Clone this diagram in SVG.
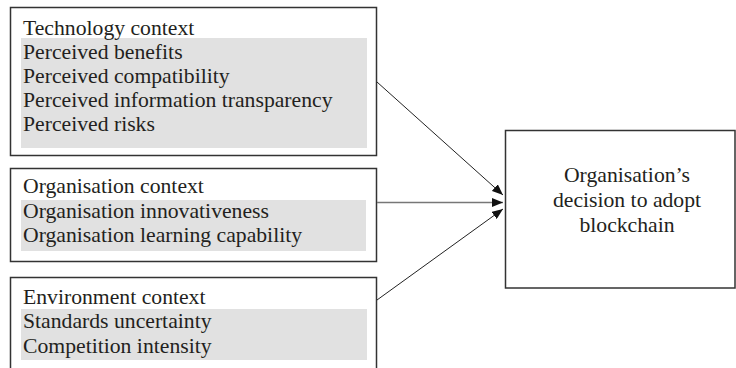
<svg xmlns="http://www.w3.org/2000/svg" width="736" height="368" viewBox="0 0 736 368">
<style>
.box{fill:#fff;stroke:#333;stroke-width:1.5}
.hl{fill:#e1e1e1}
text{font-family:"Liberation Serif","Times New Roman",serif;font-size:21.7px;fill:#231f20}
.c{text-anchor:middle}
.ln{stroke:#222;stroke-width:1;fill:none}
.lm{stroke:#777;stroke-width:1.6;fill:none}
</style>
<defs>
<marker id="ah" viewBox="0 0 11 9" refX="11" refY="4.5" markerWidth="11" markerHeight="9" markerUnits="userSpaceOnUse" orient="auto">
<path d="M0,0 L11,4.5 L0,9 Z" fill="#111"/>
</marker>
</defs>
<rect width="736" height="368" fill="#fff"/>
<g id="technology">
<rect class="box" x="10.5" y="7.5" width="366" height="148"/>
<rect class="hl" x="21" y="38" width="346" height="110"/>
<text x="23" y="35">Technology context</text>
<text x="23" y="59">Perceived benefits</text>
<text x="23" y="83">Perceived compatibility</text>
<text x="23" y="107">Perceived information transparency</text>
<text x="23" y="131">Perceived risks</text>
</g>
<g id="organisation">
<rect class="box" x="10.5" y="168.5" width="366" height="93"/>
<rect class="hl" x="21" y="200" width="345" height="51"/>
<text x="23" y="193">Organisation context</text>
<text x="23" y="218">Organisation innovativeness</text>
<text x="23" y="242">Organisation learning capability</text>
</g>
<g id="environment">
<rect class="box" x="10.5" y="277.5" width="366" height="100"/>
<rect class="hl" x="21" y="309" width="346" height="51"/>
<text x="23" y="304">Environment context</text>
<text x="23" y="328">Standards uncertainty</text>
<text x="23" y="353">Competition intensity</text>
</g>
<g id="decision">
<rect class="box" x="505.5" y="130.5" width="229.5" height="157.5"/>
<text class="c" x="627" y="182">Organisation’s</text>
<text class="c" x="627" y="207">decision to adopt</text>
<text class="c" x="627" y="232">blockchain</text>
</g>
<g id="connectors">
<line class="ln" x1="377" y1="82" x2="503" y2="195" marker-end="url(#ah)"/>
<line class="lm" x1="377" y1="202.5" x2="503" y2="202.5" marker-end="url(#ah)"/>
<line class="ln" x1="377" y1="300" x2="503" y2="209" marker-end="url(#ah)"/>
</g>
</svg>
